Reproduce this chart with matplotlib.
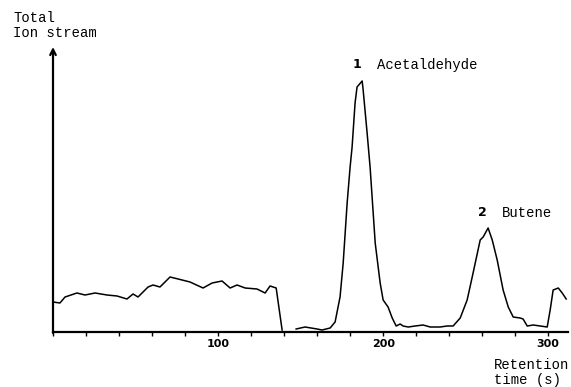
import matplotlib
matplotlib.use("Agg")
import matplotlib.pyplot as plt
import numpy as np

# retention time (s) / total ion stream (arbitrary units)
time_a = [0, 4.2, 7.3, 14.5, 19.4, 25.5, 32.7, 38.8, 44.8, 48.5, 51.5, 57.6, 60.6,
          64.8, 70.9, 75.8, 83.0, 90.9, 96.4, 102.4, 107.3, 111.5, 116.4, 123.6,
          128.5, 131.5, 135.2, 138.8]
ion_a = [30, 29, 35, 39, 37, 39, 37, 36, 33, 38, 35, 45, 47,
         45, 55, 53, 50, 44, 49, 51, 44, 47, 44, 43,
         39, 46, 44, 2]

time_b = [147.3, 152.7, 160.0, 163.0, 167.9, 170.9, 173.9, 175.8, 178.2, 180.0, 181.2,
          183.0, 184.2, 187.3, 187.9, 190.3, 192.1, 195.2, 198.2, 200.0, 203.0, 205.5,
          207.9, 210.3, 212.1, 215.2, 219.4, 224.2, 228.5, 234.5, 238.8, 242.4, 246.7,
          250.9, 254.5, 258.8, 260.6, 263.6, 266.1, 269.1, 272.7, 275.8, 278.8, 283.0,
          284.8, 287.3, 290.9, 295.2, 299.4, 301.2, 303.0, 306.1, 308.5, 310.9]
ion_b = [3, 5, 3, 2, 4, 10, 35, 69, 129, 165, 185,
         229, 245, 251, 242, 199, 165, 89, 49, 32, 25, 14,
         6, 8, 6, 5, 6, 7, 5, 5, 6, 6, 14,
         32, 59, 92, 95, 104, 92, 72, 42, 25, 15, 14,
         13, 6, 7, 6, 5, 22, 42, 44, 39, 33]

peak_num = ["1", "2"]
peak_name = ["Acetaldehyde", "Butene"]
peak_pos = [(184.2, 267), (260.0, 119)]
major_ticks = [100, 200, 300]

mono = "Liberation Mono"

fig = plt.figure(figsize=(5.71, 3.87), dpi=100)
ax = fig.add_axes([53 / 571, 55 / 387, 515 / 571, 285 / 387])

ax.plot(time_a, ion_a, color="black", lw=1.1)
ax.plot(time_b, ion_b, color="black", lw=1.1)

ax.set_xlim(0, 312)
ax.set_ylim(0, 285)

for s in ["top", "right", "left"]:
    ax.spines[s].set_visible(False)
ax.spines["bottom"].set_linewidth(1.6)
ax.annotate("", xy=(0, 285), xytext=(0, -1),
            arrowprops=dict(arrowstyle="->", lw=1.6, color="black",
                            shrinkA=0, shrinkB=0, mutation_scale=10),
            annotation_clip=False)

ax.set_yticks([])
ax.set_xticks(major_ticks)
ax.set_xticks(np.arange(0, 312, 20), minor=True)
ax.tick_params(axis="x", which="both", direction="out", length=3, width=1)
ax.tick_params(axis="x", which="major", labelsize=8, pad=2)
for lab in ax.get_xticklabels():
    lab.set_fontweight("bold")

for num, name, (x, y) in zip(peak_num, peak_name, peak_pos):
    ax.text(x, y, num, fontsize=9, fontweight="bold", ha="center", va="center")
    ax.text(x + 12.2, y, name, fontsize=10, family=mono, ha="left", va="center")

ax.annotate("Total", xy=(13, 369), xycoords="figure pixels", fontsize=10,
            family=mono, va="center")
ax.annotate("Ion stream", xy=(13, 354), xycoords="figure pixels", fontsize=10,
            family=mono, va="center")
ax.annotate("Retention", xy=(494, 22), xycoords="figure pixels", fontsize=10,
            family=mono, va="center")
ax.annotate("time (s)", xy=(494, 7), xycoords="figure pixels", fontsize=10,
            family=mono, va="center")

fig.savefig("out.png", dpi=100)
